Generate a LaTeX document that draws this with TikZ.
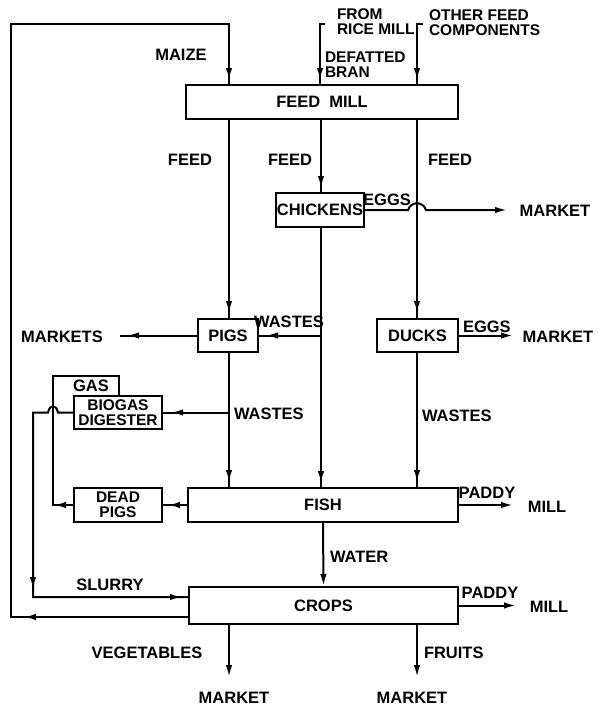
\documentclass[tikz,border=0pt]{standalone}
\usepackage{fontspec}
\setmainfont{Liberation Sans}
\usetikzlibrary{arrows.meta,decorations.markings,calc}
\begin{document}
\begin{tikzpicture}[x=1pt,y=-1pt,
  line width=2pt,
  every node/.style={font=\fontsize{16.5}{15}\selectfont\bfseries, inner sep=0pt},
  pbox/.style={draw, line width=2pt, align=center},
  twoline/.style={font=\fontsize{15.5}{15}\selectfont\bfseries},
  lbl/.style={align=left, twoline},
  flowtip/.tip={Latex[length=12pt,width=6.5pt]},
  arr/.style={postaction={decorate}, decoration={markings, mark=at position #1 with {\arrow{flowtip}}}},
  arrtwo/.style 2 args={postaction={decorate}, decoration={markings, mark=at position #1 with {\arrow{flowtip}}, mark=at position #2 with {\arrow{flowtip}}}},
  ]
\useasboundingbox (0,0) rectangle (599,707);

% columns
\coordinate (colL) at (229,0);
\coordinate (colM) at (321,0);
\coordinate (colR) at (417,0);

% boxes
\node[pbox, minimum width=272pt, minimum height=34pt] (feedmill) at (322,102) {FEED\hspace{9pt}MILL};
\node[pbox, minimum width=88pt, minimum height=34pt] (chickens) at (320,210) {CHICKENS};
\node[pbox, minimum width=60pt, minimum height=33pt] (pigs) at (228,335.5) {PIGS};
\node[pbox, minimum width=81pt, minimum height=33pt] (ducks) at (417.5,335.5) {DUCKS};
\node[pbox, twoline, minimum width=88pt, minimum height=33pt] (digester) at (118,412.5) {BIOGAS\\DIGESTER};
\node[pbox, twoline, minimum width=88pt, minimum height=34pt] (deadpigs) at (118,505) {DEAD\\PIGS};
\node[pbox, minimum width=270pt, minimum height=34pt] (fish) at (323,505) {FISH};
\node[pbox, minimum width=269pt, minimum height=37pt] (crops) at (323.5,605.5) {CROPS};

% labels
\node (maize) at (181,55) {MAIZE};
\node[lbl, anchor=west] (fromrice) at (336,21.5) {FROM\\RICE MILL};
\node[lbl, anchor=west] (defatted) at (324,65) {DEFATTED\\BRAN};
\node[lbl, anchor=west] (otherfeed) at (428,22.5) {OTHER FEED\\COMPONENTS};
\node (feedL) at (190,160) {FEED};
\node (feedM) at (290,160) {FEED};
\node (feedR) at (450,160) {FEED};
\node (eggsC) at (387,200) {EGGS};
\node (mktC) at (555,211) {MARKET};
\node (wastesP) at (289,322) {WASTES};
\node (mkts) at (62,337) {MARKETS};
\node[anchor=west] (eggsD) at (462,327) {EGGS};
\node (mktD) at (558,337) {MARKET};
\node[anchor=west] (wastesDig) at (233,414) {WASTES};
\node[anchor=west] (wastesD) at (421,416) {WASTES};
\node (gas) at (91,386) {GAS};
\node (paddyF) at (487,493) {PADDY};
\node (millF) at (547,507) {MILL};
\node[anchor=west] (water) at (329,557) {WATER};
\node (slurry) at (110,585) {SLURRY};
\node (paddyC) at (490,593) {PADDY};
\node (millC) at (549,607) {MILL};
\node (veg) at (147,653) {VEGETABLES};
\node[anchor=west] (fruits) at (423,653) {FRUITS};
\node (mktV) at (234,698) {MARKET};
\node (mktF) at (412,698) {MARKET};

% maize loop
\coordinate (loopBL) at (11,617);
\coordinate (loopTL) at (11,24);
\coordinate (loopTR) at (229,24);
\draw[arrtwo={164pt}{-4pt}] ([yshift=-11.5pt]crops.west) -- (loopBL) -- (loopTL) -- (loopTR) -- (feedmill.north -| loopTR);

% defatted bran and other feed components
\coordinate (branTop) at (325,24);
\coordinate (branCol) at (320,24);
\draw[arr=-4pt] (branTop) -- (branCol) -- (feedmill.north -| branCol);
\coordinate (othTop) at (423,24);
\coordinate (othCol) at (417,24);
\draw[arr=-4pt] (othTop) -- (othCol) -- (feedmill.north -| othCol);

% feed lines
\draw[arr=-5pt] (feedmill.south -| colL) -- (pigs.north -| colL);
\draw[arr=-4pt] (feedmill.south -| colM) -- (chickens.north -| colM);
\draw[arr=-5pt] (feedmill.south -| colR) -- (ducks.north -| colR);

% chicken eggs with hop over the duck feed line
\coordinate (hopA) at (408,210);
\coordinate (hopB) at (426,210);
\coordinate (eggsEnd) at (507,210);
\draw[-{flowtip}] (chickens.east) -- (hopA) .. controls (411,201) and (423,201) .. (hopB) -- (eggsEnd);

% chicken wastes
\draw[arr=-4pt] (chickens.south -| colM) -- (fish.north -| colM);
\draw[arr=-7pt] (pigs.east -| colM) -- (pigs.east);

% pigs
\coordinate (mktsEnd) at (120,335.5);
\draw[arr=-7pt] (pigs.west) -- (mktsEnd);
\draw[arr=-5pt] (pigs.south -| colL) -- (fish.north -| colL);
\draw[arr=-8pt] (digester.east -| colL) -- (digester.east);

% ducks
\coordinate (duckEggEnd) at (513,335.5);
\draw[-{flowtip}] (ducks.east) -- (duckEggEnd);
\draw[arr=-5pt] (ducks.south -| colR) -- (fish.north -| colR);

% fish to dead pigs, dead pigs to gas line
\draw[arr=-5pt] (fish.west) -- (deadpigs.east);
\coordinate (gasBL) at (53,505);
\coordinate (gasTL) at (53,376);
\coordinate (gasTR) at (119,376);
\draw[arr=19pt] (deadpigs.west) -- (gasBL) -- (gasTL) -- (gasTR) -- (digester.north -| gasTR);

% slurry
\coordinate (slA) at (58,412.5);
\coordinate (slB) at (48,412.5);
\coordinate (slTop) at (33,412.5);
\coordinate (slBot) at (33,597);
\draw[arrtwo={-163pt}{-6pt}] (digester.west) -- (slA) .. controls (56,404) and (50,404) .. (slB) -- (slTop) -- (slBot) -- (crops.west |- slBot);

% fish outputs
\coordinate (fishMillEnd) at (513,505);
\draw[-{flowtip}] (fish.east) -- (fishMillEnd);
\draw[-{flowtip}] (fish.south) -- (crops.north);

% crops outputs
\coordinate (cropMillEnd) at (516,605.5);
\draw[-{flowtip}] (crops.east) -- (cropMillEnd);
\coordinate (vegEnd) at (229,677);
\coordinate (fruitEnd) at (417,677);
\draw[-{flowtip}] (crops.south -| colL) -- (vegEnd);
\draw[-{flowtip}] (crops.south -| colR) -- (fruitEnd);
\end{tikzpicture}
\end{document}
